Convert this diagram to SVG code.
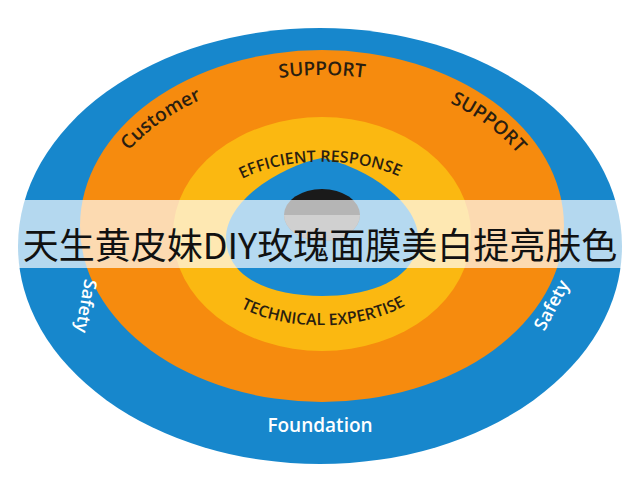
<svg xmlns="http://www.w3.org/2000/svg" width="640" height="480" viewBox="0 0 640 480">
<defs>
<style>
.t{font-family:"Open Sans","Liberation Sans",sans-serif;font-weight:600}
.dk{fill:#2a1e10}
.wt{fill:#ffffff}
</style>
<path id="orArc" d="M 92,240 A 230 165 0 0 1 552,240"/>
<path id="yeTop" d="M 212,210 A 112 56 0 0 1 432,205"/>
<path id="yeBot" d="M 205,272 A 118 66 0 0 0 438,267"/>
</defs>
<rect width="640" height="480" fill="#ffffff"/>
<g id="outer"><ellipse cx="320" cy="246" rx="302" ry="218" fill="#1787cc"/></g>
<g id="orange"><ellipse cx="322" cy="226" rx="242" ry="176" fill="#f68b0e"/></g>
<g id="yellow"><ellipse cx="322" cy="234" rx="149" ry="117" fill="#fbb811"/></g>
<g id="core">
<path d="M 322,158 C 360,165 420,200 418,240 C 416,280 370,296 322,296 C 274,296 228,280 226,240 C 224,200 284,165 322,158 Z" fill="#1a8ad0"/>
<ellipse cx="322" cy="215" rx="38" ry="26" fill="#1a1a1a"/>
<path d="M 284,215 A 38 26 0 0 0 360,215 Z" fill="#6e6e6e"/>
</g>
<g id="labels" class="t">
<text font-size="19" class="dk" text-anchor="middle"><textPath href="#orArc" startOffset="23%">Customer</textPath></text>
<text font-size="19" class="dk" text-anchor="middle"><textPath href="#orArc" startOffset="50%">SUPPORT</textPath></text>
<text font-size="19" class="dk" text-anchor="middle"><textPath href="#orArc" startOffset="78%">SUPPORT</textPath></text>
<text font-size="16" class="dk" text-anchor="middle"><textPath href="#yeTop" startOffset="50%">EFFICIENT RESPONSE</textPath></text>
<text font-size="16" class="dk" text-anchor="middle"><textPath href="#yeBot" startOffset="50%">TECHNICAL EXPERTISE</textPath></text>
<text font-size="18" class="wt" text-anchor="middle" transform="translate(80,305) rotate(100)">Safety</text>
<text font-size="18" class="wt" text-anchor="middle" transform="translate(557,308) rotate(-62)">Safety</text>
<text font-size="19" class="wt" text-anchor="middle" x="320" y="432">Foundation</text>
</g>
<g id="banner">
<rect x="0" y="200" width="640" height="68" fill="#ffffff" opacity="0.68"/>
<text x="320" y="259" font-size="36" text-anchor="middle" fill="#111" font-weight="400" font-family="'Noto Sans CJK SC','Noto Sans',sans-serif">天生黄皮妹DIY玫瑰面膜美白提亮肤色</text>
</g>
</svg>
